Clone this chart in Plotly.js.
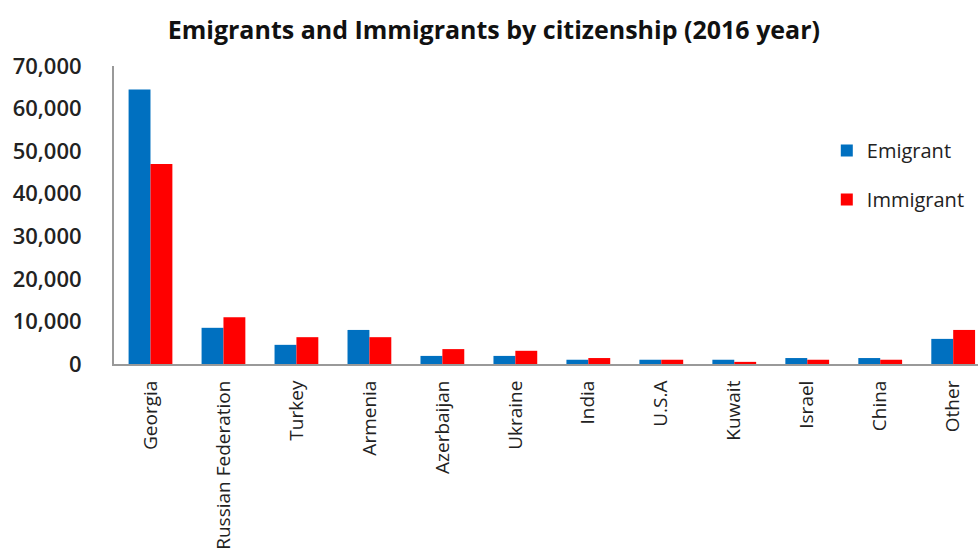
<!DOCTYPE html>
<html>
<head>
<meta charset="utf-8">
<script src="https://cdn.plot.ly/plotly-3.0.1.min.js"></script>
<style>html,body{margin:0;padding:0;background:#fff;}#chart{width:978px;height:553px;}</style>
</head>
<body>
<div id="chart"></div>
<script>
const categories = ["Georgia","Russian Federation","Turkey","Armenia","Azerbaijan","Ukraine","India","U.S.A","Kuwait","Israel","China","Other"];
const emigrant = [64500, 8500, 4500, 8000, 1900, 1900, 1000, 1000, 1000, 1400, 1400, 5900];
const immigrant = [47000, 11000, 6300, 6300, 3500, 3100, 1400, 1000, 500, 1000, 1000, 8000];
const yTicks = [0, 10000, 20000, 30000, 40000, 50000, 60000, 70000];
const yTickText = ["0","10,000","20,000","30,000","40,000","50,000","60,000","70,000"];

const font = "'Open Sans', Lato, sans-serif";
const data = [
  {type:"bar", name:"Emigrant", x:categories, y:emigrant, marker:{color:"#0070C0"}, legendgroup:"e"},
  {type:"bar", name:"Immigrant", x:categories, y:immigrant, marker:{color:"#FF0000"}, legendgroup:"i"}
];
const layout = {
  width:978, height:553,
  margin:{l:114, r:0, t:66, b:189},
  paper_bgcolor:"#fff", plot_bgcolor:"#fff",
  font:{family:font, color:"#222"},
  title:{text:"<b>Emigrants and Immigrants by citizenship (2016 year)</b>", font:{size:25, family:font, color:"#111"}, x:0.505, xanchor:"center", y:0.945, yanchor:"middle"},
  barmode:"group", bargap:0.4, bargroupgap:0,
  xaxis:{range:[-0.5, 11.34], tickangle:-90, showgrid:false, showline:true, linecolor:"#999", linewidth:2, ticks:"outside", ticklen:7, tickcolor:"rgba(0,0,0,0)", tickfont:{size:19, family:font, color:"#222"}, fixedrange:true},
  yaxis:{range:[0,70000], tickvals:yTicks, ticktext:yTickText, showgrid:false, zeroline:false, showline:true, linecolor:"#999", linewidth:2, ticks:"outside", ticklen:26, tickcolor:"rgba(0,0,0,0)", tickfont:{size:22, family:font, color:"#222", weight:600}, fixedrange:true},
  legend:{x:0.825, y:0.782, xanchor:"left", yanchor:"top", font:{size:20, family:font, color:"#222"}, tracegroupgap:20, bgcolor:"rgba(0,0,0,0)"},
  showlegend:true
};
Plotly.newPlot("chart", data, layout, {displayModeBar:false, staticPlot:true});
</script>
</body>
</html>
